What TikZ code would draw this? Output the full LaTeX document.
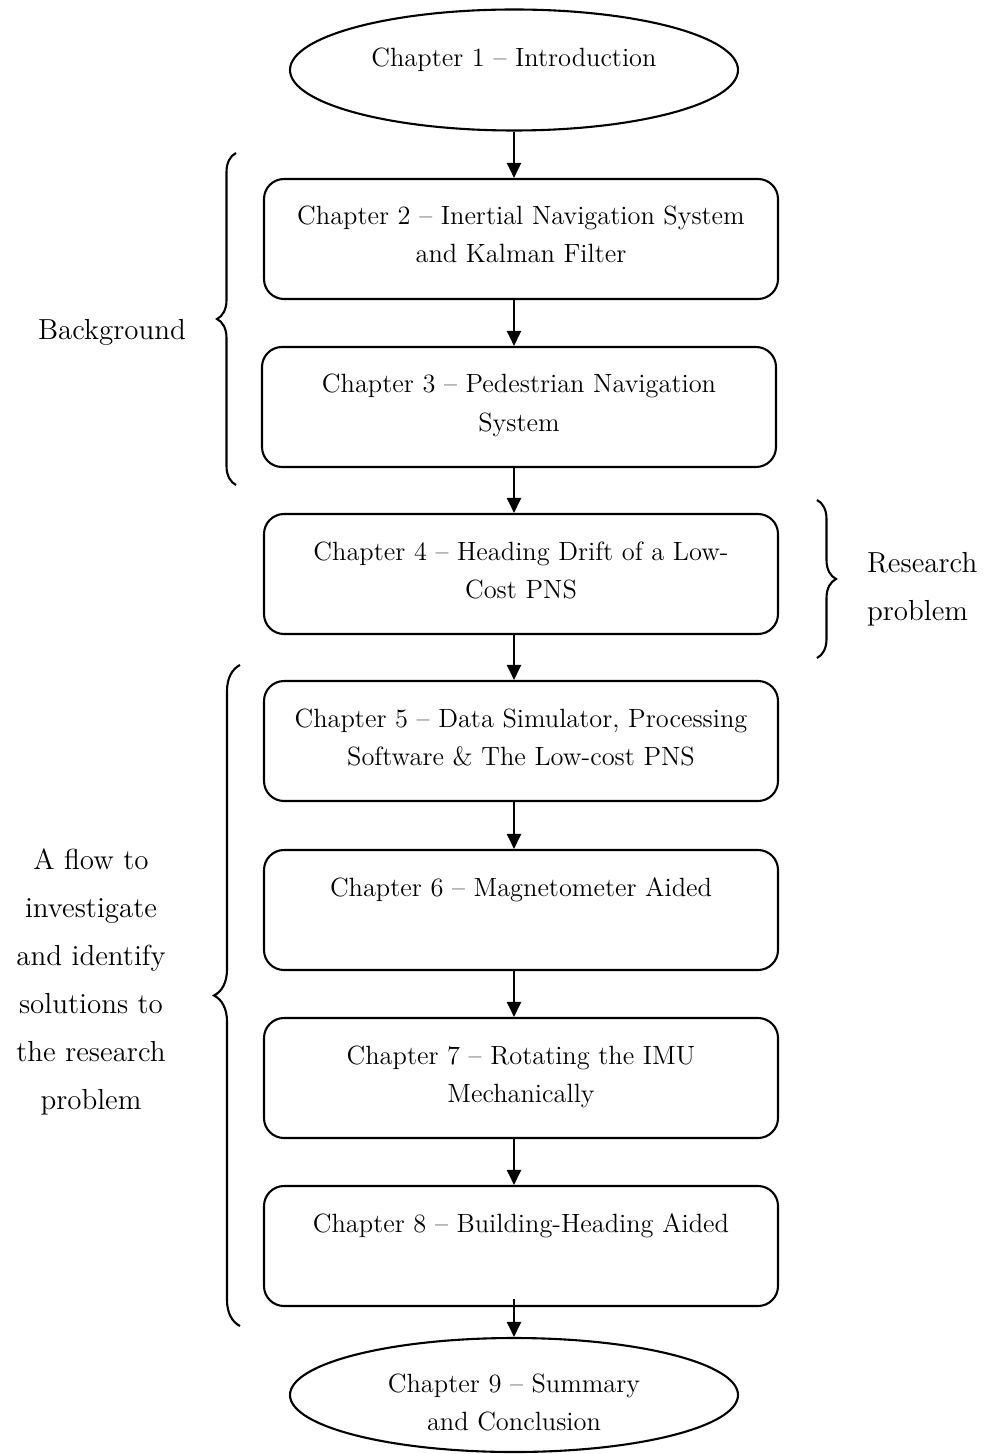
\documentclass[tikz,border=0pt]{standalone}
\usepackage{fontspec}
\usepackage{tikz}
\usetikzlibrary{shapes.geometric,arrows.meta,decorations.pathreplacing}

\newcommand{\boxfont}{\fontsize{13.2}{19}\selectfont}
\newcommand{\sidefont}{\fontsize{14.5}{24}\selectfont}
\newcommand{\chaptext}[1]{\parbox[c][60pt][t]{257pt}{\centering\boxfont\rule{0pt}{23pt}#1}}
\newcommand{\ovaltext}[1]{\parbox[c][40pt][t]{150pt}{\centering\boxfont\rule{0pt}{18.5pt}#1}}

\begin{document}
\begin{tikzpicture}[x=0.5pt,y=-0.5pt,line width=1.05pt,
	chapbox/.style={draw,rectangle,rounded corners=10pt,inner sep=0pt,minimum width=257pt,minimum height=60pt},
	ovalbox/.style={draw,ellipse,inner sep=0pt,minimum width=224pt,minimum height=60pt},
	flow/.style={-{Triangle[width=7pt,length=7.5pt]}},
	sidebrace/.style={decorate,decoration={brace,amplitude=#1}},
	sidetext/.style={inner sep=0pt,font=\sidefont}]
	\useasboundingbox (0,0) rectangle (990,1454);
	\draw (514,70) node(ch1) [ovalbox,minimum height=60.5pt] {\ovaltext{Chapter 1 -- Introduction}};
	\draw (521,239) node(ch2) [chapbox] {\chaptext{Chapter 2 -- Inertial Navigation System\\and Kalman Filter}};
	\draw (519,407) node(ch3) [chapbox] {\chaptext{Chapter 3 -- Pedestrian Navigation\\System}};
	\draw (521,574) node(ch4) [chapbox] {\chaptext{Chapter 4 -- Heading Drift of a Low-\\Cost PNS}};
	\draw (521,741) node(ch5) [chapbox] {\chaptext{Chapter 5 -- Data Simulator, Processing\\Software \& The Low-cost PNS}};
	\draw (521,910) node(ch6) [chapbox] {\chaptext{Chapter 6 -- Magnetometer Aided}};
	\draw (521,1078) node(ch7) [chapbox] {\chaptext{Chapter 7 -- Rotating the IMU\\Mechanically}};
	\draw (521,1246) node(ch8) [chapbox] {\chaptext{Chapter 8 -- Building-Heading Aided}};
	\draw (514,1395) node(ch9) [ovalbox,minimum height=57pt] {\ovaltext{Chapter 9 -- Summary\\and Conclusion}};
	\path[draw,flow] (ch1.south) -- (ch1.south |- ch2.north);
	\path[draw,flow] (ch2.south -| ch1.south) -- (ch3.north -| ch1.south);
	\path[draw,flow] (ch3.south -| ch1.south) -- (ch4.north -| ch1.south);
	\path[draw,flow] (ch4.south -| ch1.south) -- (ch5.north -| ch1.south);
	\path[draw,flow] (ch5.south -| ch1.south) -- (ch6.north -| ch1.south);
	\path[draw,flow] (ch6.south -| ch1.south) -- (ch7.north -| ch1.south);
	\path[draw,flow] (ch7.south -| ch1.south) -- (ch8.north -| ch1.south);
	\path[draw,flow,shorten <=-4pt] (ch8.south -| ch9.north) -- (ch9.north);
	\draw (112,332) node(bg) [sidetext] {Background};
	\draw (866,589) node(rp) [sidetext,anchor=west,align=left] {Research\\problem};
	\draw (91,982) node(fl) [sidetext,align=center] {A flow to\\investigate\\and identify\\solutions to\\the research\\problem};
	\path[draw,sidebrace=9.5pt] (236,485) -- (236,153);
	\path[draw,sidebrace=9.5pt] (817,500) -- (817,658);
	\path[draw,sidebrace=13pt] (240,1326) -- (240,665);
\end{tikzpicture}
\end{document}
